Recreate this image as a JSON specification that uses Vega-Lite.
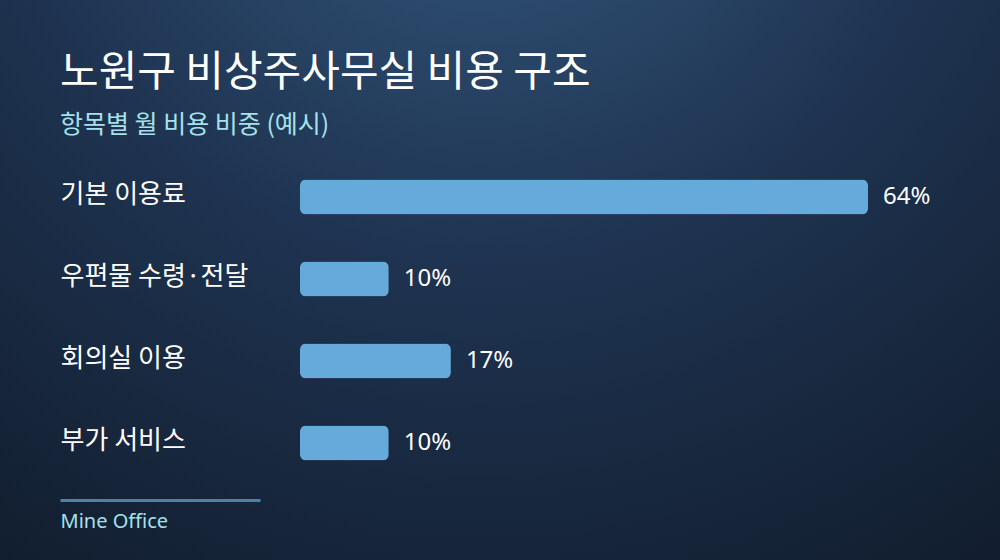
{
  "$schema": "https://vega.github.io/schema/vega-lite/v6.json",
  "width": 1000,
  "height": 560,
  "padding": 0,
  "autosize": {"type": "none"},
  "background": "#101c2b",
  "title": {
    "text": "노원구 비상주사무실 비용 구조",
    "subtitle": "항목별 월 비용 비중 (예시)",
    "anchor": "start",
    "frame": "group",
    "offset": -139,
    "dx": 60,
    "font": "Noto Sans CJK KR",
    "fontSize": 42,
    "fontWeight": "normal",
    "color": "#ffffff",
    "subtitleFont": "Noto Sans CJK KR",
    "subtitleFontSize": 25,
    "subtitleColor": "#a6e1ec",
    "subtitlePadding": 18
  },
  "data": {
    "values": [
      {"item": "기본 이용료", "share": 0.64},
      {"item": "우편물 수령·전달", "share": 0.10},
      {"item": "회의실 이용", "share": 0.17},
      {"item": "부가 서비스", "share": 0.10}
    ]
  },
  "layer": [
    {
      "data": {"values": [{"bg": 1}]},
      "mark": {
        "type": "rect",
        "color": {
          "gradient": "radial",
          "x1": 0.48, "y1": 0, "r1": 0,
          "x2": 0.48, "y2": 0, "r2": 1.05,
          "stops": [
            {"offset": 0, "color": "#365c81"},
            {"offset": 0.45, "color": "#1f3452"},
            {"offset": 0.75, "color": "#152438"},
            {"offset": 1, "color": "#0e1826"}
          ]
        }
      },
      "encoding": {}
    },
    {
      "mark": {"type": "bar", "height": 35, "cornerRadius": 6, "color": "#66aadc"},
      "encoding": {
        "y": {
          "field": "item",
          "type": "nominal",
          "sort": null,
          "scale": {"range": [156, 484], "paddingInner": 0, "paddingOuter": 0},
          "axis": {
            "title": null,
            "orient": "left",
            "offset": -60,
            "zindex": 1,
            "domain": false,
            "ticks": false,
            "grid": false,
            "labelPadding": 0,
            "labelAlign": "left",
            "labelBaseline": "middle",
            "labelOffset": -2,
            "labelFont": "Noto Sans CJK KR",
            "labelFontSize": 26,
            "labelColor": "#ffffff",
            "labelLimit": 300
          }
        },
        "x": {
          "field": "share",
          "type": "quantitative",
          "scale": {"domain": [0, 0.64], "range": [300, 868]},
          "axis": null
        }
      }
    },
    {
      "mark": {"type": "text", "align": "left", "baseline": "middle", "dx": 15, "font": "Noto Sans", "fontSize": 24, "color": "#ffffff"},
      "encoding": {
        "y": {"field": "item", "type": "nominal", "sort": null},
        "x": {
          "field": "share",
          "type": "quantitative",
          "scale": {"domain": [0, 0.64], "range": [300, 868]},
          "axis": null
        },
        "text": {"field": "share", "type": "quantitative", "format": ".0%"}
      }
    },
    {
      "data": {"values": [{"v": 0}, {"v": 1}]},
      "mark": {"type": "point", "opacity": 0},
      "encoding": {
        "x": {
          "field": "v",
          "type": "quantitative",
          "scale": {"domain": [0, 1], "range": [60, 260]},
          "axis": {
            "orient": "bottom",
            "offset": -60,
            "zindex": 1,
            "domain": true,
            "domainColor": "#4e80a8",
            "domainWidth": 3,
            "ticks": false,
            "labels": false,
            "grid": false,
            "title": "Mine Office",
            "titleAnchor": "start",
            "titleAlign": "left",
            "titleFont": "Noto Sans",
            "titleFontSize": 20,
            "titleFontWeight": "normal",
            "titleColor": "#a6e1ec",
            "titlePadding": 11
          }
        }
      }
    }
  ],
  "resolve": {"scale": {"x": "independent"}, "axis": {"x": "independent"}},
  "config": {"view": {"stroke": null}}
}
